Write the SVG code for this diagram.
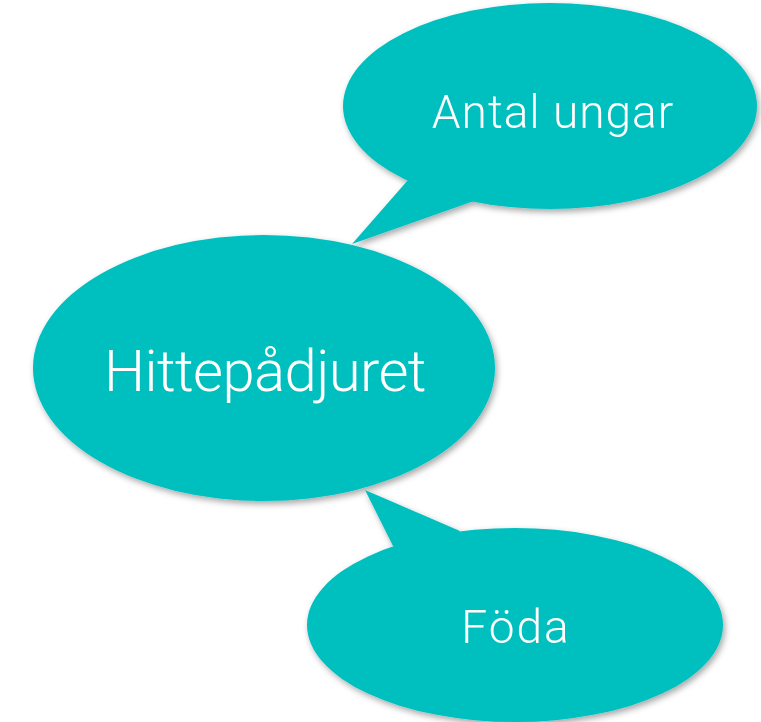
<svg xmlns="http://www.w3.org/2000/svg" width="761" height="722" viewBox="0 0 761 722">
<defs>
<filter id="sh" x="-10%" y="-10%" width="120%" height="130%">
<feDropShadow dx="2" dy="3" stdDeviation="3" flood-color="#000" flood-opacity="0.35"/>
</filter>
<style>
.b{fill:#02BFBF}
.t{fill:#fff;font-family:Roboto,"Liberation Sans",sans-serif;font-weight:300;text-anchor:middle}
</style>
</defs>
<rect width="761" height="722" fill="#fff"/>
<g filter="url(#sh)">
<g id="connectors">
<polygon class="b" points="352,244 408,180 480,190 474,201"/>
<polygon class="b" points="365,490 393,546 430,560 460,531"/>
</g>
<g id="node-antal">
<ellipse class="b" cx="550" cy="106" rx="207" ry="103"/>
<text class="t" x="553" y="128" font-size="46" letter-spacing="1">Antal ungar</text>
</g>
<g id="node-foda">
<ellipse class="b" cx="515" cy="625" rx="208" ry="97"/>
<text class="t" x="516" y="643" font-size="46" letter-spacing="2">Föda</text>
</g>
<g id="node-main">
<ellipse class="b" cx="264" cy="368" rx="231" ry="133"/>
<text class="t" x="265" y="391" font-size="58" letter-spacing="-0.6">Hittepådjuret</text>
</g>
</g>
</svg>
